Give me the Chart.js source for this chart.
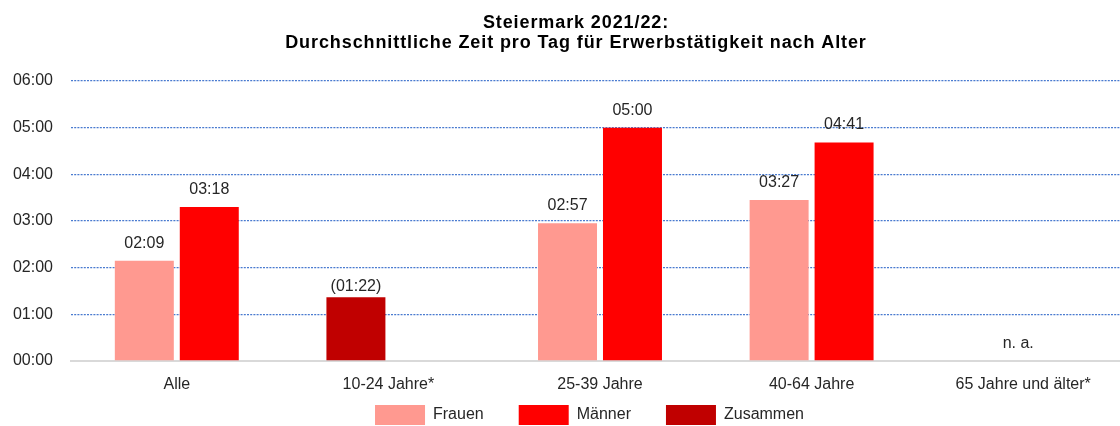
<!DOCTYPE html>
<html>
<head>
<meta charset="utf-8">
<script src="https://cdn.jsdelivr.net/npm/chart.js@4.4.1/dist/chart.umd.min.js"></script>
<style>
html,body{margin:0;padding:0;background:#fff;overflow:hidden;}
#wrap{position:relative;width:1120px;height:426px;}
</style>
</head>
<body>
<div id="wrap"><canvas id="c" width="1120" height="426"></canvas></div>
<script>
const titleLines = ["Steiermark 2021/22:", "Durchschnittliche Zeit pro Tag für Erwerbstätigkeit nach Alter"];
const categories = ["Alle", "10-24 Jahre*", "25-39 Jahre", "40-64 Jahre", "65 Jahre und älter*"];
// values in minutes
const frauen = [129, null, 177, 207, null];
const maenner = [198, null, 300, 281, null];
const zusammen = [null, 82, null, null, null];
const zusammenLabels = [null, "(01:22)", null, null, null];
const naLabels = [null, null, null, null, "n. a."];
const yTicks = [0, 60, 120, 180, 240, 300, 360];

function fmt(m){
  const h = Math.floor(m/60), mm = Math.round(m%60);
  return String(h).padStart(2,'0') + ':' + String(mm).padStart(2,'0');
}

const FONT = "'Liberation Sans', Arial, sans-serif";
const TXT = '#262626';

const layoutPlugin = {
  id: 'layoutTweak',
  afterLayout(chart){
    // plot area extends slightly past the right edge of the picture, as in the original
    const dx = 9;
    chart.chartArea.right += dx;
    chart.chartArea.width += dx;
    const xs = chart.scales.x;
    xs.right += dx; xs.width += dx; xs.configure();
    const lg = chart.legend;
    if (lg) { lg.top = 370; lg.bottom = 426; lg.left -= 6; lg.right -= 6; }
  }
};

const labelPlugin = {
  id: 'valueLabels',
  afterDatasetsDraw(chart){
    const ctx = chart.ctx;
    ctx.save();
    ctx.font = "16px " + FONT;
    ctx.fillStyle = TXT;
    ctx.textAlign = 'center';
    ctx.textBaseline = 'alphabetic';
    chart.data.datasets.forEach((ds, di) => {
      const meta = chart.getDatasetMeta(di);
      const off = ds.labelOffset || 13;
      meta.data.forEach((bar, i) => {
        const v = ds.data[i];
        if (v == null) return;
        const txt = ds.customLabels && ds.customLabels[i] ? ds.customLabels[i] : fmt(v);
        ctx.fillText(txt, bar.x, bar.y - off);
      });
    });
    const xs = chart.scales.x, ys = chart.scales.y;
    naLabels.forEach((t, i) => {
      if (!t) return;
      ctx.fillText(t, xs.getPixelForValue(i) - 5, ys.getPixelForValue(0) - 13);
    });
    // title
    ctx.font = "bold 18px " + FONT;
    ctx.fillStyle = '#000';
    try { ctx.letterSpacing = '0.9px'; } catch(e) {}
    ctx.fillText(titleLines[0], 576, 28);
    ctx.fillText(titleLines[1], 576, 48);
    ctx.restore();
  }
};

new Chart(document.getElementById('c'), {
  type: 'bar',
  data: {
    labels: categories,
    datasets: [
      {label: 'Frauen', data: frauen, backgroundColor: '#FF9990', stack: 'a'},
      {label: 'Männer', data: maenner, backgroundColor: '#FF0000', stack: 'b'},
      {label: 'Zusammen', data: zusammen, backgroundColor: '#C00000', stack: 'a', customLabels: zusammenLabels, labelOffset: 6}
    ]
  },
  options: {
    responsive: false,
    animation: false,
    devicePixelRatio: 1,
    layout: {padding: {top: 81, left: 10, right: 0, bottom: 0}},
    datasets: {bar: {categoryPercentage: 0.614, barPercentage: 0.908}},
    plugins: {
      title: {display: false},
      tooltip: {enabled: false},
      legend: {
        position: 'bottom',
        fullSize: false,
        maxHeight: 31,
        labels: {
          boxWidth: 50, boxHeight: 20, padding: 35,
          color: TXT,
          font: {family: FONT, size: 16}
        }
      }
    },
    scales: {
      x: {
        stacked: true,
        grid: {display: false, drawTicks: false},
        border: {display: true, color: '#D9D9D9', width: 2},
        ticks: {color: TXT, font: {family: FONT, size: 16}, padding: 14},
        afterFit(axis){ axis.height = 34; }
      },
      y: {
        stacked: true,
        min: 0, max: 360,
        afterBuildTicks(axis){ axis.ticks = yTicks.map(v => ({value: v})); },
        grid: {color: '#4A7BD0', lineWidth: 1.3, drawTicks: false},
        border: {display: false, dash: [2, 1.2]},
        ticks: {color: TXT, font: {family: FONT, size: 16}, padding: 18, callback: v => fmt(v)},
        afterFit(axis){ axis.width = 61; }
      }
    }
  },
  plugins: [layoutPlugin, labelPlugin]
});
</script>
</body>
</html>
